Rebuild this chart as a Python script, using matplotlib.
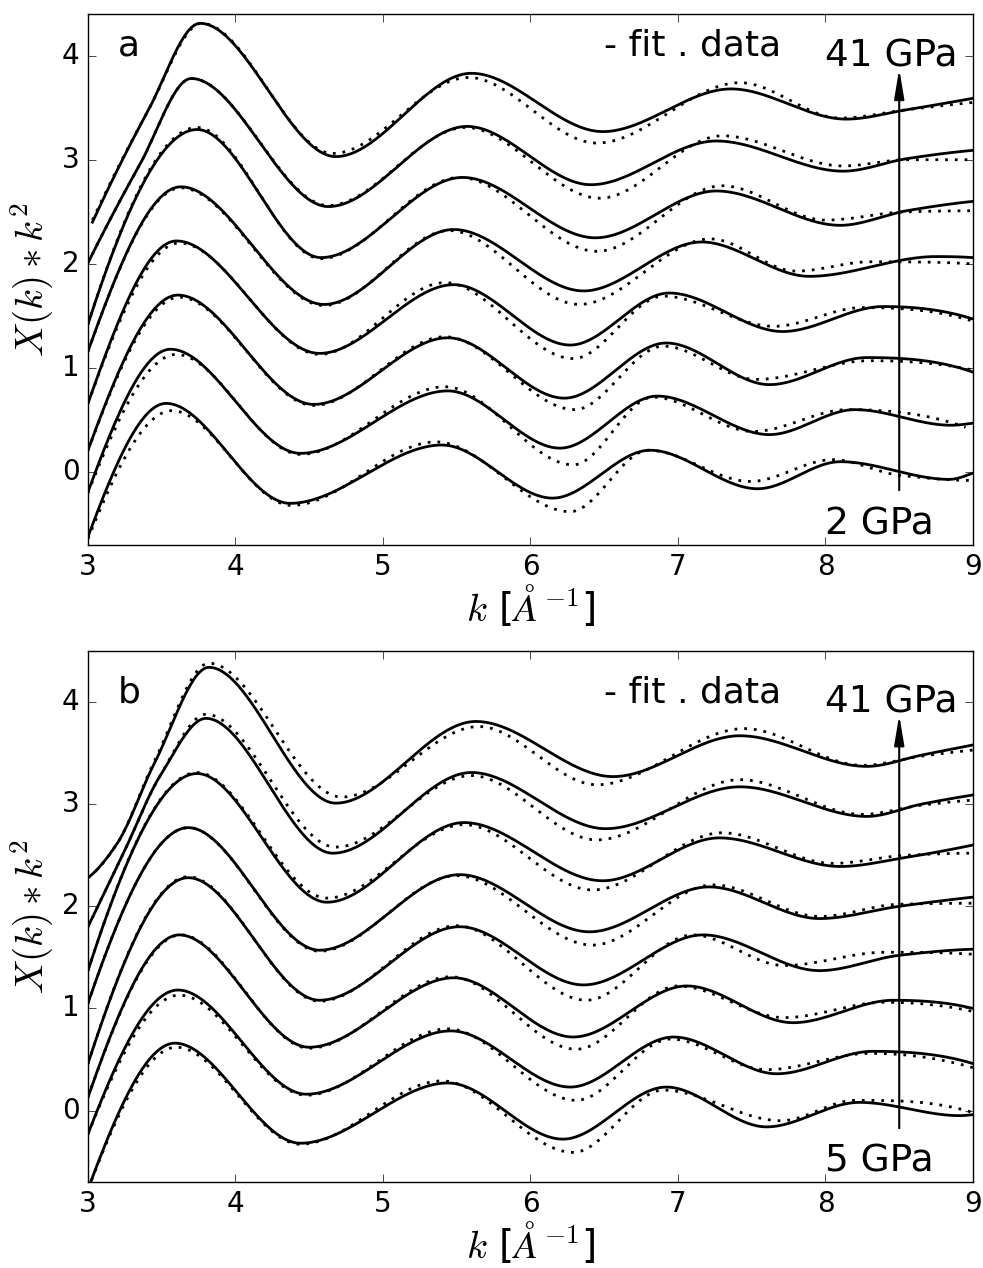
import numpy as np
import matplotlib.pyplot as plt

plt.style.use('classic')
plt.rcParams['lines.scale_dashes'] = False

# values: start, extrema (and a few shape points), end
# curve 0 = lowest pressure (offset 0), curve 7 = 41 GPa (offset 3.5)
a_fit_k = [
    [3.00, 3.53, 4.37, 5.40, 6.15, 6.81, 7.54, 8.10, 8.84, 9.00],
    [3.00, 3.56, 4.44, 5.44, 6.20, 6.86, 7.62, 8.20, 8.85, 9.00],
    [3.00, 3.61, 4.53, 5.44, 6.23, 6.92, 7.62, 8.28, 9.00],
    [3.00, 3.60, 4.57, 5.48, 6.27, 6.94, 7.71, 8.39, 9.00],
    [3.00, 3.63, 4.60, 5.48, 6.36, 7.16, 7.89, 8.75, 9.00],
    [3.00, 3.74, 4.58, 5.54, 6.44, 7.26, 8.10, 8.55, 9.00],
    [3.00, 3.35, 3.70, 4.63, 5.57, 6.41, 7.26, 8.12, 8.55, 9.00],
    [3.03, 3.40, 3.76, 4.68, 5.60, 6.49, 7.36, 8.14, 8.55, 9.00],
]
a_fit_y = [
    [-0.62, 0.66, -0.30, 0.26, -0.25, 0.21, -0.16, 0.10, -0.07, -0.01],
    [-0.19, 1.18, 0.18, 0.78, 0.23, 0.73, 0.36, 0.60, 0.45, 0.47],
    [0.21, 1.70, 0.65, 1.29, 0.71, 1.24, 0.84, 1.10, 0.96],
    [0.66, 2.22, 1.14, 1.80, 1.22, 1.72, 1.35, 1.59, 1.47],
    [1.16, 2.74, 1.61, 2.33, 1.74, 2.21, 1.88, 2.07, 2.06],
    [1.42, 3.29, 2.06, 2.83, 2.25, 2.70, 2.37, 2.51, 2.60],
    [2.01, 2.95, 3.78, 2.55, 3.32, 2.76, 3.18, 2.89, 3.01, 3.09],
    [2.40, 3.45, 4.31, 3.03, 3.83, 3.27, 3.68, 3.39, 3.48, 3.59],
]
a_dat_k = [
    [3.00, 3.57, 4.38, 5.36, 6.27, 6.80, 7.49, 8.05, 8.50, 9.00],
    [3.00, 3.60, 4.44, 5.42, 6.29, 6.83, 7.51, 8.15, 8.95],
    [3.00, 3.62, 4.53, 5.42, 6.30, 6.90, 7.53, 8.30, 9.00],
    [3.00, 3.62, 4.57, 5.42, 6.29, 6.90, 7.65, 8.25, 9.00],
    [3.00, 3.63, 4.60, 5.45, 6.33, 7.22, 7.80, 8.30, 9.00],
    [3.00, 3.74, 4.58, 5.52, 6.45, 7.30, 8.00, 8.55, 9.00],
    [3.00, 3.35, 3.70, 4.63, 5.56, 6.47, 7.30, 8.12, 8.55, 9.00],
    [3.03, 3.40, 3.77, 4.66, 5.58, 6.45, 7.42, 8.10, 8.55, 9.00],
]
a_dat_y = [
    [-0.64, 0.59, -0.32, 0.29, -0.38, 0.21, -0.09, 0.12, -0.03, -0.08],
    [-0.20, 1.13, 0.17, 0.82, 0.07, 0.72, 0.39, 0.60, 0.43],
    [0.21, 1.68, 0.64, 1.30, 0.60, 1.21, 0.89, 1.07, 0.98],
    [0.66, 2.20, 1.13, 1.82, 1.09, 1.69, 1.40, 1.58, 1.45],
    [1.16, 2.73, 1.60, 2.32, 1.61, 2.24, 1.93, 2.02, 2.00],
    [1.42, 3.31, 2.05, 2.83, 2.12, 2.75, 2.42, 2.50, 2.51],
    [2.01, 2.95, 3.78, 2.56, 3.31, 2.63, 3.23, 2.94, 3.00, 3.00],
    [2.42, 3.45, 4.31, 3.06, 3.79, 3.16, 3.74, 3.40, 3.48, 3.55],
]

b_fit_k = [
    [3.00, 3.59, 4.44, 5.44, 6.22, 6.92, 7.60, 8.23, 8.91, 9.00],
    [3.00, 3.61, 4.48, 5.46, 6.27, 6.97, 7.67, 8.32, 9.00],
    [3.00, 3.62, 4.50, 5.48, 6.29, 7.06, 7.78, 8.46, 9.00],
    [3.00, 3.68, 4.57, 5.52, 6.36, 7.17, 7.96, 8.50, 9.00],
    [3.00, 3.68, 4.57, 5.52, 6.40, 7.21, 7.96, 8.50, 9.00],
    [3.00, 3.74, 4.62, 5.55, 6.49, 7.28, 8.10, 8.55, 9.00],
    [3.00, 3.25, 3.49, 3.80, 4.66, 5.60, 6.51, 7.42, 8.28, 8.65, 9.00],
    [3.00, 3.20, 3.45, 3.82, 4.68, 5.63, 6.56, 7.42, 8.28, 8.65, 9.00],
]
b_fit_y = [
    [-0.77, 0.66, -0.32, 0.27, -0.28, 0.23, -0.16, 0.08, -0.05, -0.04],
    [-0.23, 1.18, 0.16, 0.78, 0.23, 0.72, 0.36, 0.58, 0.46],
    [0.13, 1.72, 0.62, 1.30, 0.72, 1.22, 0.86, 1.08, 1.00],
    [0.46, 2.28, 1.08, 1.80, 1.23, 1.72, 1.37, 1.52, 1.58],
    [1.05, 2.77, 1.57, 2.31, 1.75, 2.19, 1.88, 2.00, 2.09],
    [1.37, 3.30, 2.04, 2.82, 2.25, 2.67, 2.39, 2.48, 2.60],
    [1.80, 2.55, 3.28, 3.84, 2.52, 3.31, 2.76, 3.17, 2.88, 3.00, 3.09],
    [2.28, 2.62, 3.40, 4.34, 3.01, 3.81, 3.27, 3.67, 3.37, 3.48, 3.58],
]
b_dat_k = [
    [3.00, 3.60, 4.44, 5.40, 6.29, 6.90, 7.70, 8.20, 9.00],
    [3.00, 3.62, 4.48, 5.44, 6.31, 6.95, 7.60, 8.30, 9.00],
    [3.00, 3.63, 4.50, 5.46, 6.31, 7.00, 7.72, 8.40, 9.00],
    [3.00, 3.68, 4.57, 5.50, 6.38, 7.10, 7.72, 8.40, 9.00],
    [3.00, 3.68, 4.57, 5.50, 6.42, 7.24, 7.96, 8.50, 9.00],
    [3.00, 3.74, 4.62, 5.55, 6.42, 7.30, 8.05, 8.55, 9.00],
    [3.00, 3.25, 3.49, 3.80, 4.68, 5.60, 6.45, 7.42, 8.25, 8.65, 9.00],
    [3.00, 3.20, 3.45, 3.82, 4.72, 5.65, 6.45, 7.45, 8.25, 8.65, 9.00],
]
b_dat_y = [
    [-0.77, 0.62, -0.33, 0.29, -0.41, 0.20, -0.10, 0.10, -0.02],
    [-0.23, 1.13, 0.15, 0.80, 0.10, 0.70, 0.40, 0.56, 0.42],
    [0.13, 1.72, 0.61, 1.31, 0.60, 1.22, 0.91, 1.06, 0.97],
    [0.46, 2.29, 1.07, 1.81, 1.08, 1.72, 1.42, 1.55, 1.53],
    [1.05, 2.77, 1.56, 2.30, 1.62, 2.21, 1.90, 2.02, 2.03],
    [1.37, 3.31, 2.08, 2.80, 2.16, 2.72, 2.42, 2.50, 2.52],
    [1.80, 2.55, 3.28, 3.88, 2.58, 3.28, 2.65, 3.24, 2.90, 2.99, 3.04],
    [2.28, 2.62, 3.42, 4.38, 3.07, 3.76, 3.19, 3.74, 3.38, 3.47, 3.53],
]

panel_names = ['a', 'b']
low_labels = ['2 GPa', '5 GPa']
high_label = '41 GPa'
ylims = [(-0.7, 4.4), (-0.7, 4.5)]


def end_slope(h0, h1, d0, d1):
    s = ((2 * h0 + h1) * d0 - h0 * d1) / (h0 + h1)
    if np.sign(s) != np.sign(d0):
        s = 0.0
    elif np.sign(d0) != np.sign(d1) and abs(s) > abs(3 * d0):
        s = 3 * d0
    return s


def smooth(kp, yp, n=500):
    # monotone cubic (pchip) line through the read points
    kp = np.asarray(kp, float)
    yp = np.asarray(yp, float)
    h = np.diff(kp)
    d = np.diff(yp) / h
    m = np.zeros_like(yp)
    for i in range(1, len(kp) - 1):
        if d[i - 1] * d[i] > 0:
            w1 = 2 * h[i] + h[i - 1]
            w2 = h[i] + 2 * h[i - 1]
            m[i] = (w1 + w2) / (w1 / d[i - 1] + w2 / d[i])
    m[0] = end_slope(h[0], h[1], d[0], d[1])
    m[-1] = end_slope(h[-1], h[-2], d[-1], d[-2])
    k = np.linspace(kp[0], kp[-1], n)
    idx = np.clip(np.searchsorted(kp, k, side='right') - 1, 0, len(h) - 1)
    t = (k - kp[idx]) / h[idx]
    y = ((2 * t**3 - 3 * t**2 + 1) * yp[idx] + (t**3 - 2 * t**2 + t) * h[idx] * m[idx]
         + (-2 * t**3 + 3 * t**2) * yp[idx + 1] + (t**3 - t**2) * h[idx] * m[idx + 1])
    return k, y


fig = plt.figure(figsize=(9.83, 12.68), facecolor='white')
ax_a = fig.add_axes([0.0895, 0.5702, 0.9003, 0.4188])
ax_b = fig.add_axes([0.0895, 0.0678, 0.9003, 0.4188])

panels = [(ax_a, a_fit_k, a_fit_y, a_dat_k, a_dat_y),
          (ax_b, b_fit_k, b_fit_y, b_dat_k, b_dat_y)]

for p, (ax, fk, fy, dk, dy) in enumerate(panels):
    for i in range(len(fk)):
        k, y = smooth(dk[i], dy[i])
        ax.plot(k, y, color='k', lw=2, linestyle=(0, (2, 5)))
        k, y = smooth(fk[i], fy[i])
        ax.plot(k, y, color='k', lw=2)

    ax.text(3.2, 4.0, panel_names[p], fontsize=26)
    ax.text(6.5, 4.0, '- fit . data', fontsize=26)
    ax.text(8.0, 3.9, high_label, fontsize=27)
    ax.text(8.0, -0.6, low_labels[p], fontsize=27)
    ax.annotate('', xy=(8.5, 3.9), xytext=(8.5, -0.2),
                arrowprops=dict(arrowstyle='-|>,head_length=0.9,head_width=0.15',
                                mutation_scale=20, color='k', lw=1.5))

    ax.set_xlim(3, 9)
    ax.set_ylim(*ylims[p])
    ax.set_xticks([3, 4, 5, 6, 7, 8, 9])
    ax.set_yticks([0, 1, 2, 3, 4])
    ax.tick_params(labelsize=20, length=6, pad=6)
    ax.set_xlabel(r'$k$ [$\AA^{-1}$]', fontsize=28, labelpad=1)
    ax.set_ylabel(r'$X(k)*k^2$', fontsize=28, labelpad=4)

fig.savefig('out.png', dpi=100, facecolor='white')
